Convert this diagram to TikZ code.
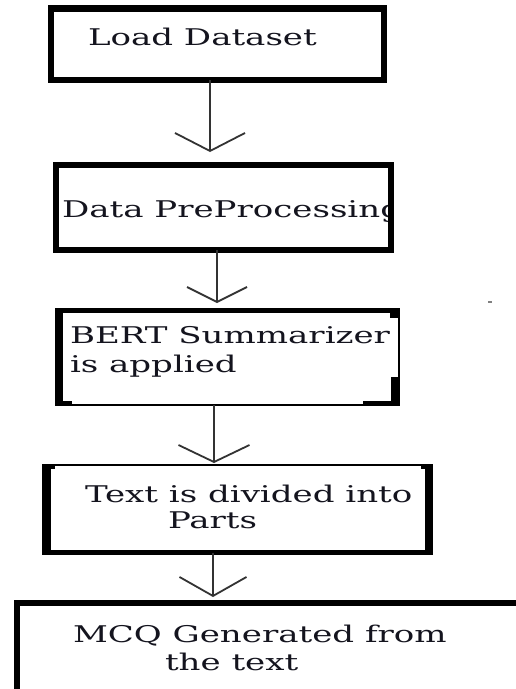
\documentclass[tikz,border=0pt]{standalone}
\usepackage{fontspec}
\usepackage{graphicx}
\setmainfont{DejaVu Serif}
\usetikzlibrary{arrows.meta}
\definecolor{inkc}{HTML}{14141E}
\definecolor{linec}{HTML}{333333}
\newcommand{\widetxt}[1]{\scalebox{1.48}[1]{#1}}
\tikzset{
  stepbox/.style={rectangle, draw=black, fill=none, inner sep=0pt, outer sep=0pt},
  lbl/.style={anchor=base west, inner sep=0pt, outer sep=0pt, text=inkc, font=\fontsize{23}{30}\selectfont},
  conn/.style={draw=linec, line width=1.8pt},
  vtip/.style 2 args={-{Straight Barb[length=#1, width=#2, line width=1.8pt]}},
  thickpart/.style={fill=black}
}
\begin{document}
\begin{tikzpicture}[x=1pt,y=-1pt]
\useasboundingbox (0,0) rectangle (516,689);
\clip (0,0) rectangle (516,689);
\fill[white] (0,0) rectangle (516,689);

% texts (drawn first so borders cover overflow)
\node[lbl] (t1) at (88,45) {\widetxt{Load Dataset}};
\begin{scope}
  \clip (52,162) rectangle (389,252);
  \node[lbl] (t2) at (62,217) {\widetxt{Data PreProcessing}};
\end{scope}
\node[lbl] (t3a) at (70,343) {\widetxt{BERT Summarizer}};
\node[lbl] (t3b) at (70,372) {\widetxt{is applied}};
\node[lbl] (t4a) at (85,502) {\widetxt{Text is divided into}};
\node[lbl] (t4b) at (168,528) {\widetxt{Parts}};
\node[lbl] (t5a) at (73,642) {\widetxt{MCQ Generated from}};
\node[lbl] (t5b) at (165,670) {\widetxt{the text}};

% boxes
\node[stepbox, line width=6.5pt, minimum width=333pt, minimum height=71.5pt] (b1) at (217.5,44.25) {};
\node[stepbox, line width=6pt, minimum width=334.5pt, minimum height=85.5pt] (b2) at (223.25,207.25) {};
\node[stepbox, line width=2pt, minimum width=341.5pt, minimum height=94.5pt] (b3) at (227.75,357.75) {};
\node[stepbox, line width=2pt, minimum width=382.5pt, minimum height=87.5pt] (b4) at (237.75,508.75) {};
\node[stepbox, line width=6pt, minimum width=560pt, minimum height=200pt] (b5) at (296.5,702.5) {};

% thick parts of box 3
\fill[thickpart] (55,308) rectangle (400,313);
\fill[thickpart] (55,308) rectangle (63,406);
\fill[thickpart] (390,308) rectangle (400,318);
\fill[thickpart] (391,377) rectangle (400,406);
\fill[thickpart] (363,401) rectangle (400,406);
\fill[thickpart] (55,401) rectangle (72,406);

% thick parts of box 4
\fill[thickpart] (42,464) rectangle (51,555);
\fill[thickpart] (425,464) rectangle (433,555);
\fill[thickpart] (42,550) rectangle (433,555);
\fill[thickpart] (42,464) rectangle (55,469);
\fill[thickpart] (421,464) rectangle (433,469);

% connectors
\draw[conn, vtip={18pt}{70pt}, shorten >=12.5pt] (210,0 |- b1.south) -- (210,0 |- b2.north);
\draw[conn, vtip={15pt}{60pt}, shorten >=7.5pt] (217,0 |- b2.south) -- (217,0 |- b3.north);
\draw[conn, vtip={17pt}{71pt}, shorten >=2pt] (214,0 |- b3.south) -- (214,0 |- b4.north);
\draw[conn, vtip={19pt}{67pt}, shorten >=5.5pt] (213,0 |- b4.south) -- (213,0 |- b5.north);

% stray mark
\draw[gray, line width=1.2pt] (488,302) -- (492,302);
\end{tikzpicture}
\end{document}
